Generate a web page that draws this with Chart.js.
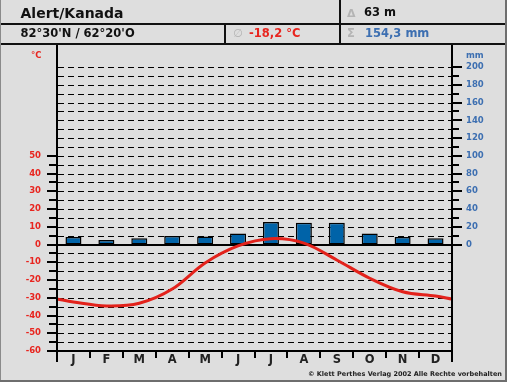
<!DOCTYPE html>
<html><head><meta charset="utf-8">
<script src="https://cdn.jsdelivr.net/npm/chart.js@4.4.0/dist/chart.umd.min.js"></script>
<style>
html,body{margin:0;padding:0;background:#dedede;}
#wrap{position:relative;width:507px;height:382px;background:#dedede;overflow:hidden;font-family:"DejaVu Sans",sans-serif;font-weight:bold;}
canvas{position:absolute;left:0;top:0;}
.t{position:absolute;white-space:nowrap;line-height:1;}
.ln{position:absolute;}
</style></head><body>
<div id="wrap">
<canvas id="c" width="507" height="382"></canvas>
<div class="ln" style="left:0;top:23px;width:507px;height:2px;background:#111"></div>
<div class="ln" style="left:0;top:43px;width:507px;height:2px;background:#111"></div>
<div class="ln" style="left:339px;top:0;width:2px;height:44px;background:#111"></div>
<div class="ln" style="left:224px;top:24px;width:2px;height:20px;background:#111"></div>
<div class="ln" style="left:0;top:0;width:1px;height:382px;background:#8a8a8a"></div>
<div class="ln" style="left:505px;top:0;width:2px;height:382px;background:#6e6e6e"></div>
<div class="ln" style="left:0;top:380px;width:507px;height:2px;background:#6e6e6e"></div>
<div class="t" style="left:20.5px;top:5.5px;font-size:14px;color:#111">Alert/Kanada</div>
<div class="t" style="left:347px;top:7.5px;font-size:11px;color:#b4b4b4">Δ</div>
<div class="t" style="left:364px;top:7px;font-size:11.5px;color:#111">63 m</div>
<div class="t" style="left:20.5px;top:28px;font-size:11.5px;color:#111">82°30'N / 62°20'O</div>
<div class="t" style="left:233px;top:28px;font-size:11.5px;color:#b4b4b4;font-weight:normal">∅</div>
<div class="t" style="left:249px;top:28px;font-size:11.5px;color:#e8251f">-18,2 °C</div>
<div class="t" style="left:347px;top:28px;font-size:11.5px;color:#b4b4b4">Σ</div>
<div class="t" style="left:365px;top:28px;font-size:11.5px;color:#3d6fb1">154,3 mm</div>
<div class="t" style="left:31px;top:51px;font-size:8.5px;color:#e8251f">°C</div>
<div class="t" style="left:466px;top:51px;font-size:8.5px;color:#3d6fb1">mm</div>
<div class="t" style="right:5px;top:371px;font-size:6.5px;color:#222">© Klett Perthes Verlag 2002 Alle Rechte vorbehalten</div>
</div>
<script>
const months = ['J','F','M','A','M','J','J','A','S','O','N','D'];
const precipitation = [8.5, 5, 7, 9.5, 9, 12.5, 25.5, 24.5, 24.5, 12.5, 8.5, 7];
const temperature = [-32.4, -34.6, -33.1, -25.1, -10.4, -0.8, 3.3, 0.8, -8.7, -19.0, -26.6, -29.0];
const temperatureEdge = -30.7;
const tempTicks = [-60, -50, -40, -30, -20, -10, 0, 10, 20, 30, 40, 50];
const precipTicks = [0, 20, 40, 60, 80, 100, 120, 140, 160, 180, 200];

const linePoints = [{x: 0, y: temperatureEdge}]
  .concat(temperature.map((t, i) => ({x: i + 0.5, y: t})))
  .concat([{x: 12, y: temperatureEdge}]);

const frame = {
  id: 'frame',
  beforeDatasetsDraw(chart) {
    const {ctx, chartArea: a, scales: {y}} = chart;
    ctx.save();
    ctx.strokeStyle = '#000';
    ctx.lineWidth = 1;
    ctx.setLineDash([6, 4]);
    for (let v = -55; v <= 100; v += 5) {
      if (v === 0) continue;
      const py = Math.round(y.getPixelForValue(v)) + 0.5;
      ctx.beginPath(); ctx.moveTo(a.left + 1, py); ctx.lineTo(a.right - 1, py); ctx.stroke();
    }
    ctx.setLineDash([]);
    ctx.lineWidth = 2;
    const zy = Math.round(y.getPixelForValue(0));
    ctx.beginPath(); ctx.moveTo(a.left, zy); ctx.lineTo(a.right, zy); ctx.stroke();
    ctx.restore();
  },
  afterDatasetsDraw(chart) {
    const {ctx, chartArea: a, scales: {y, y2, x}} = chart;
    ctx.save();
    ctx.strokeStyle = '#000';
    ctx.lineWidth = 2;
    const L = Math.round(a.left), R = Math.round(a.right), B = Math.round(a.bottom);
    ctx.beginPath();
    ctx.moveTo(L, 44); ctx.lineTo(L, 362);
    ctx.moveTo(R, 44); ctx.lineTo(R, 362);
    ctx.moveTo(L, B); ctx.lineTo(R, B);
    tempTicks.forEach((v, i) => {
      const py = Math.round(y.getPixelForValue(v));
      ctx.moveTo(L - 10, py); ctx.lineTo(L, py);
      if (i < tempTicks.length - 1) {
        const pm = Math.round(y.getPixelForValue(v + 5));
        ctx.moveTo(L - 8, pm); ctx.lineTo(L, pm);
      }
    });
    precipTicks.forEach((v, i) => {
      const py = Math.round(y2.getPixelForValue(v));
      ctx.moveTo(R, py); ctx.lineTo(R + 10, py);
      if (i < precipTicks.length - 1) {
        const pm = Math.round(y2.getPixelForValue(v + 10));
        ctx.moveTo(R, pm); ctx.lineTo(R + 7, pm);
      }
    });
    for (let i = 1; i < months.length; i++) {
      const px = Math.round((x.getPixelForValue(i - 1) + x.getPixelForValue(i)) / 2);
      ctx.moveTo(px, B); ctx.lineTo(px, B + 7);
    }
    ctx.stroke();
    ctx.restore();
  }
};

Chart.defaults.font.family = '"DejaVu Sans", sans-serif';
new Chart(document.getElementById('c'), {
  data: {
    labels: months,
    datasets: [
      {
        type: 'line', data: linePoints, xAxisID: 'xl', yAxisID: 'y',
        borderColor: '#e3221b', borderWidth: 3, pointRadius: 0, tension: 0.35,
        order: 0
      },
      {
        type: 'bar', data: precipitation, xAxisID: 'x', yAxisID: 'y2',
        backgroundColor: '#0063a8', borderColor: '#000', borderWidth: 1.5,
        borderSkipped: false, grouped: false, categoryPercentage: 1, barPercentage: 0.486,
        maxBarThickness: 16, order: 1
      }
    ]
  },
  options: {
    responsive: false, animation: false, devicePixelRatio: 1,
    layout: {padding: {top: 44, left: 0, right: 0, bottom: 0}},
    plugins: {legend: {display: false}, tooltip: {enabled: false}},
    scales: {
      x: {
        type: 'category', position: 'bottom', offset: true,
        grid: {display: false, drawTicks: false}, border: {display: false},
        ticks: {color: '#222', font: {size: 11.5, weight: 'bold'}, padding: 2, maxRotation: 0, autoSkip: false},
        afterFit(s) { s.height = 31; }
      },
      xl: {
        type: 'linear', display: false, min: 0, max: 12
      },
      y: {
        type: 'linear', position: 'left', min: -60, max: 113,
        grid: {display: false, drawTicks: false}, border: {display: false},
        afterBuildTicks(s) { s.ticks = tempTicks.map(v => ({value: v})); },
        ticks: {color: '#e8251f', font: {size: 8.5, weight: 'bold'}, padding: 16, callback: v => String(v)},
        afterFit(s) { s.width = 57; }
      },
      y2: {
        type: 'linear', position: 'right', min: -120, max: 226,
        grid: {display: false, drawTicks: false}, border: {display: false},
        afterBuildTicks(s) { s.ticks = precipTicks.map(v => ({value: v})); },
        ticks: {color: '#3d6fb1', font: {size: 8.5, weight: 'bold'}, padding: 14, callback: v => String(v)},
        afterFit(s) { s.width = 55; }
      }
    }
  },
  plugins: [frame]
});
</script>
</body></html>
